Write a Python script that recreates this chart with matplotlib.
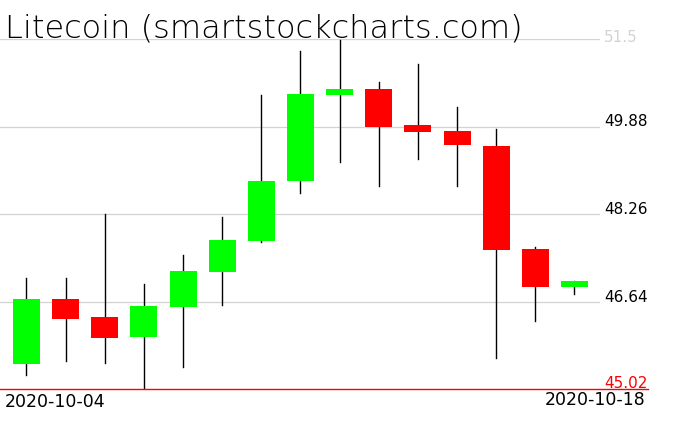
import matplotlib
matplotlib.use("Agg")
import matplotlib.pyplot as plt
from matplotlib.patches import Rectangle
from matplotlib.lines import Line2D

dates = ["2020-10-04", "2020-10-05", "2020-10-06", "2020-10-07", "2020-10-08",
         "2020-10-09", "2020-10-10", "2020-10-11", "2020-10-12", "2020-10-13",
         "2020-10-14", "2020-10-15", "2020-10-16", "2020-10-17", "2020-10-18"]
opens  = [45.49, 46.69, 46.35, 45.99, 46.54, 47.19, 47.76, 48.87, 50.47, 50.58, 49.91, 49.80, 49.52, 47.61, 46.91]
highs  = [47.08, 47.08, 48.26, 46.96, 47.50, 48.20, 50.46, 51.28, 51.48, 50.71, 51.04, 50.24, 49.83, 47.65, 47.02]
lows   = [45.27, 45.53, 45.51, 45.02, 45.43, 46.58, 47.74, 48.65, 49.23, 48.78, 49.27, 48.78, 45.59, 46.28, 46.77]
closes = [46.69, 46.32, 45.96, 46.56, 47.20, 47.78, 48.87, 50.48, 50.58, 49.88, 49.78, 49.53, 47.59, 46.91, 47.02]
grid_levels = [46.64, 48.26, 49.88]
y_min, y_max = 45.02, 51.5
title = "Litecoin (smartstockcharts.com)"

W, H = 676, 431
fig = plt.figure(figsize=(W / 100, H / 100), dpi=100)
ax = fig.add_axes([0, 1 - 390 / H, 600 / W, 350 / H])
ax.set_xlim(-0.677, 14.652)
ax.set_ylim(y_min, y_max)
ax.axis("off")

for g in grid_levels + [y_max]:
    ax.axhline(g, color="#d3d3d3", lw=0.9, zorder=0)

bw = 0.69
for i in range(len(dates)):
    o, h, l, c = opens[i], highs[i], lows[i], closes[i]
    ax.add_line(Line2D([i, i], [l, h], color="black", lw=1.0, zorder=1))
    col = "#00ff00" if c >= o else "#ff0000"
    lo, hi = min(o, c), max(o, c)
    ax.add_patch(Rectangle((i - bw / 2, lo), bw, max(hi - lo, 0.02),
                           facecolor=col, edgecolor="none", zorder=2))

# red baseline at the minimum
fig.add_artist(Line2D([0, 648 / W], [1 - 390 / H, 1 - 390 / H],
                      color="#ff0000", lw=1.0, transform=fig.transFigure))

# price labels
def ypx(v):
    return 390 - (v - y_min) / (y_max - y_min) * 350

for g in grid_levels:
    fig.text(604 / W, 1 - (ypx(g) - 1) / H, f"{g:.2f}", fontsize=11,
             color="black", ha="left", va="baseline")
fig.text(604 / W, 1 - (ypx(y_max) + 2) / H, "51.5", fontsize=11,
         color="#d3d3d3", ha="left", va="baseline")
fig.text(604 / W, 1 - (ypx(y_min) - 2) / H, f"{y_min:.2f}", fontsize=11,
         color="#ff0000", ha="left", va="baseline")

# date labels
fig.text(5 / W, 1 - 407 / H, dates[0], fontsize=12.5, color="black",
         ha="left", va="baseline")
fig.text(646 / W, 1 - 405 / H, dates[-1], fontsize=12.5, color="black",
         ha="right", va="baseline")

fig.text(5 / W, 1 - 37 / H, title, fontsize=23, color="black",
         ha="left", va="baseline", fontweight="light")

fig.savefig("out.png", dpi=100)
